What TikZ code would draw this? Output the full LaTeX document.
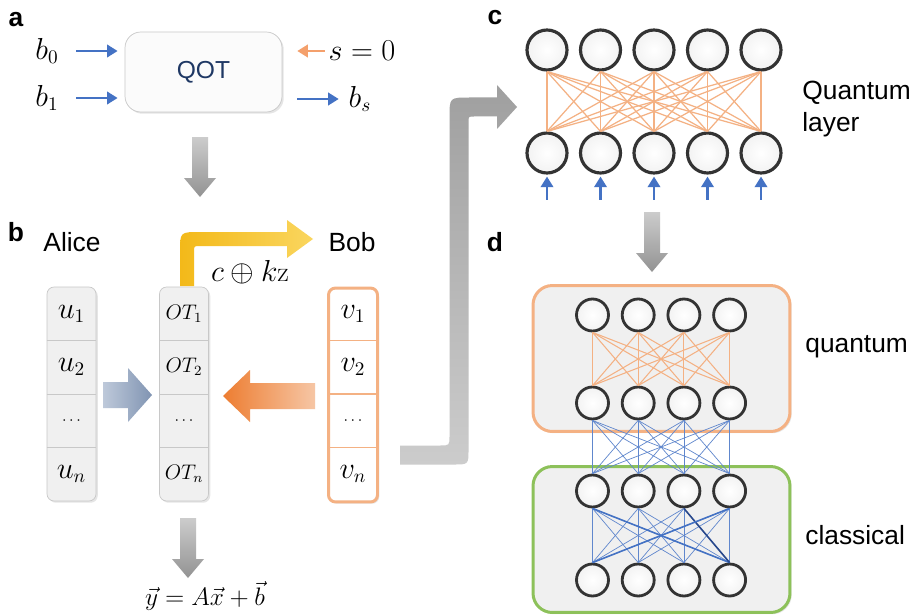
\documentclass[tikz,border=0pt]{standalone}
\usepackage{fontspec}
\setsansfont{Liberation Sans}
\usetikzlibrary{arrows.meta,positioning,shadows}
\definecolor{qblue}{RGB}{68,114,196}
\definecolor{qdblue}{RGB}{40,72,140}
\definecolor{qorange}{RGB}{244,160,108}
\definecolor{qlorange}{RGB}{244,177,131}
\definecolor{qdorange}{RGB}{237,125,49}
\definecolor{qpeach}{RGB}{246,198,165}
\definecolor{qgreen}{RGB}{141,193,90}
\definecolor{qnavy}{RGB}{31,56,100}
\definecolor{boxgray}{RGB}{240,240,240}
\definecolor{edgegray}{RGB}{200,200,200}
\definecolor{qgold}{RGB}{243,185,25}
\definecolor{qlgold}{RGB}{250,214,95}
\definecolor{qsteela}{RGB}{190,201,218}
\definecolor{qsteelb}{RGB}{128,148,178}

\tikzset{
  lbl/.style={font=\sffamily\fontsize{15}{18}\selectfont, inner sep=0pt},
  panel/.style={font=\sffamily\bfseries\fontsize{15}{18}\selectfont, inner sep=0pt},
  mth/.style={font=\fontsize{16}{19}\selectfont, inner sep=0pt},
  thinarrow/.style={line width=1.7pt, -{Triangle[length=6pt,width=7pt]}},
  neuronc/.style={circle, draw=black!80, line width=1.8pt, inner color=white, outer color=gray!10,
    minimum size=0.8cm, inner sep=0pt},
  neurond/.style={neuronc, minimum size=0.64cm, line width=1.6pt},
  cellcol/.style={draw=edgegray, fill=boxgray, rounded corners=4pt, minimum width=0.98cm,
    minimum height=4.28cm, drop shadow={opacity=0.2, shadow xshift=1pt, shadow yshift=-1pt}},
  qotbox/.style={draw=edgegray, fill=gray!3, rounded corners=9pt, minimum width=3.14cm,
    minimum height=1.6cm, text=qnavy, font=\sffamily\fontsize{14}{17}\selectfont,
    drop shadow={opacity=0.2, shadow xshift=1pt, shadow yshift=-1pt}},
  dbox/.style={fill=boxgray, line width=1.7pt, rounded corners=11pt, minimum width=5.14cm,
    minimum height=2.92cm, drop shadow={opacity=0.2, shadow xshift=1pt, shadow yshift=-1pt}},
  cell/.style={font=\fontsize{16}{19}\selectfont, inner sep=0pt},
  qedge/.style={qlorange, line width=0.7pt},
  bedge/.style={qblue!85, line width=0.4pt},
}

\begin{document}
\begin{tikzpicture}[x=0.02cm, y=-0.02cm]
\useasboundingbox (0,0) rectangle (916,615);
\fill[white] (0,0) rectangle (916,615);

% a: QOT
\node[panel] (la) at (16,20) {a};
\node[qotbox] (qot) at (203.5,72) {QOT};
\node[mth] (b0) at (47,51) {$b_0$};
\node[mth] (b1) at (47,98) {$b_1$};
\node[mth] (s0) at (362,51) {$s=0$};
\node[mth] (bs) at (360,99) {$b_s$};
\draw[thinarrow, qblue, shorten <=10pt, shorten >=4pt] (b0.east) -- (b0.east -| qot.west);
\draw[thinarrow, qblue, shorten <=10pt, shorten >=4pt] (b1.east) -- (b1.east -| qot.west);
\draw[thinarrow, qorange, shorten <=2pt, shorten >=8.5pt] (s0.west) -- (s0.west -| qot.east);
\draw[thinarrow, qblue, shorten <=8.5pt, shorten >=5.5pt] (bs.west -| qot.east) -- (bs.west);

% gray arrows down
\foreach \cx/\ytop/\ytip in {200/137/197, 652/212/272, 188/518/578} {
  \shade[top color=gray!40, bottom color=gray!85] (\cx-8,\ytop) -- (\cx+8,\ytop) -- (\cx+8,\ytip-19)
    -- (\cx+16,\ytip-19) -- (\cx,\ytip) -- (\cx-16,\ytip-19) -- (\cx-8,\ytip-19) -- cycle;
}

% b: OT columns
\node[panel] (lb) at (16,232) {b};
\node[lbl] (alice) at (72,242) {Alice};
\node[lbl] (bob) at (352,242) {Bob};
\node[cellcol] (ucol) at (71.5,394) {};
\node[cellcol] (otcol) at (184,394) {};
\node[cellcol, draw=qlorange, fill=white, line width=1.7pt] (vcol) at (353,395) {};
\foreach \dy in {340.5,394,447.5} {
  \draw[edgegray] (ucol.west |- 0,\dy) -- (ucol.east |- 0,\dy);
  \draw[edgegray] (otcol.west |- 0,\dy) -- (otcol.east |- 0,\dy);
  \draw[qlorange, line width=0.8pt] (vcol.west |- 0,\dy) -- (vcol.east |- 0,\dy);
}
\node[cell] (u1) at (71.5,314) {$u_1$};
\node[cell] (u2) at (71.5,367) {$u_2$};
\node[cell, font=\small] (ud) at (71.5,421) {$\cdots$};
\node[cell] (un) at (71.5,474) {$u_n$};
\node[cell, font=\fontsize{12}{14}\selectfont] (ot1) at (184,314) {$OT_1$};
\node[cell, font=\fontsize{12}{14}\selectfont] (ot2) at (184,367) {$OT_2$};
\node[cell, font=\small] (otd) at (184,421) {$\cdots$};
\node[cell, font=\fontsize{12}{14}\selectfont] (otn) at (184,474) {$OT_n$};
\node[cell] (v1) at (353,314) {$v_1$};
\node[cell] (v2) at (353,367) {$v_2$};
\node[cell, font=\small] (vd) at (353,421) {$\cdots$};
\node[cell] (vn) at (353,474) {$v_n$};

% block arrows into OT
\shade[left color=qsteela, right color=qsteelb] (103,382) -- (128,382) -- (128,368) -- (152,395)
  -- (128,422) -- (128,408) -- (103,408) -- cycle;
\shade[left color=qdorange, right color=qpeach] (315,383) -- (250,383) -- (250,370) -- (223,396)
  -- (250,422) -- (250,409) -- (315,409) -- cycle;
% c + kz to Bob
\shade[left color=qgold, right color=qlgold] (180,286) -- (180,252) .. controls (180,232) .. (200,232)
  -- (287,232) -- (287,220) -- (313,239) -- (287,258) -- (287,246) -- (200,246)
  .. controls (194,246) .. (194,252) -- (194,286) -- cycle;
\node[mth] (ckz) at (250,272) {$c \oplus k\mathrm{z}$};
\node[font=\fontsize{15}{18}\selectfont, inner sep=1pt] (eq) at (205,596) {$\vec{y} = A\vec{x} + \vec{b}$};

% big arrow b -> c
\shade[top color=gray!75, bottom color=gray!40] (400,445.5) -- (440,445.5) .. controls (449.5,445.5) .. (449.5,436)
  -- (449.5,117.5) .. controls (449.5,97.5) .. (469.5,97.5) -- (497,97.5) -- (497,85) -- (517,107)
  -- (497,129) -- (497,116.5) -- (474,116.5) .. controls (468.5,116.5) .. (468.5,122)
  -- (468.5,449.5) .. controls (468.5,464.5) .. (453.5,464.5) -- (400,464.5) -- cycle;

% c: quantum layer
\node[panel] (lc) at (495,18) {c};
\foreach \i in {1,...,5} {
  \node[neuronc] (qt\i) at ({547+53.5*(\i-1)},50) {};
  \node[neuronc] (qb\i) at ({547+53.5*(\i-1)},153) {};
  \draw[thinarrow, qblue, line width=1.4pt] (qb\i.south) ++(0,25) -- ++(0,-23);
}
\foreach \i in {1,...,5}
  \foreach \j in {1,...,5}
    \draw[qedge] (qt\i.south) -- (qb\j.north);
\node[lbl, align=left, anchor=west] (qlayer) at (802,109) {Quantum\\layer};

% d: hybrid network
\node[panel] (ld) at (495,242) {d};
\node[dbox, draw=qlorange] (qbox) at (661.5,358.5) {};
\node[dbox, draw=qgreen] (cbox) at (661.5,539.5) {};
\foreach \i in {1,...,4} {
  \node[neurond] (dq\i) at ({592.5+45.7*(\i-1)},315) {};
  \node[neurond] (dr\i) at ({592.5+45.7*(\i-1)},403) {};
  \node[neurond] (dc\i) at ({592.5+45.7*(\i-1)},491) {};
  \node[neurond] (dd\i) at ({592.5+45.7*(\i-1)},580) {};
}
\foreach \i in {1,...,4}
  \foreach \j in {1,...,4} {
    \draw[qedge, line width=0.6pt] (dq\i.south) -- (dr\j.north);
    \draw[bedge] (dr\i.south) -- (dc\j.north);
    \draw[bedge] (dc\i.south) -- (dd\j.north);
  }
\draw[qblue, line width=0.9pt] (dc1.south) -- (dd4.north);
\draw[qdblue, line width=0.9pt] (dc3.south) -- (dd4.north);
\draw[qblue, line width=0.9pt] (dc4.south) -- (dd1.north);
\node[lbl, anchor=west] (lquant) at (805,347) {quantum};
\node[lbl, anchor=west] (lclass) at (805,535) {classical};
\end{tikzpicture}
\end{document}
